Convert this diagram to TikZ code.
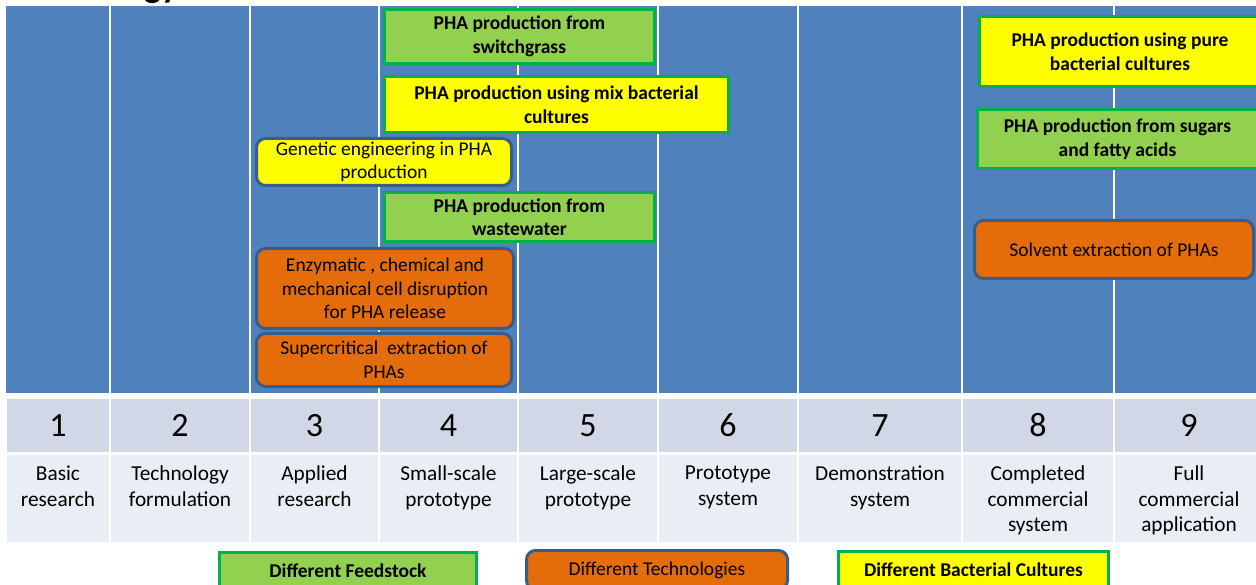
\documentclass[tikz,border=0pt]{standalone}
\usepackage{fontspec}
\setmainfont{Carlito}
\definecolor{tblue}{RGB}{79,129,189}
\definecolor{hdr}{RGB}{208,216,232}
\definecolor{lbl}{RGB}{233,237,244}
\definecolor{fgreen}{RGB}{146,208,80}
\definecolor{bgreen}{RGB}{0,176,80}
\definecolor{fyellow}{RGB}{255,255,0}
\definecolor{forange}{RGB}{228,108,10}
\definecolor{bslate}{RGB}{56,93,138}
\tikzset{
  box/.style={draw, line width=3pt, inner sep=0pt, align=center,
    font=\fontsize{19.5}{23.5}\selectfont},
  feed/.style={box, fill=fgreen, draw=bgreen,
    font=\bfseries\fontsize{19.5}{23.5}\selectfont},
  culture/.style={feed, fill=fyellow},
  tech/.style={box, fill=forange, draw=bslate, rounded corners=9pt},
  techyellow/.style={tech, fill=fyellow},
  numtext/.style={inner sep=0pt, font=\fontsize{34}{40}\selectfont},
  lbltext/.style={inner sep=0pt, align=center, anchor=north,
    font=\fontsize{21.3}{25.5}\selectfont},
}
\begin{document}
\begin{tikzpicture}[x=1pt,y=-1pt]
\useasboundingbox (0,0) rectangle (1256,585);
\clip (0,0) rectangle (1256,585);

% heading, mostly above the page edge
\node[anchor=base west, inner sep=0pt,
  font=\bfseries\fontsize{36}{40}\selectfont] (title) at (144,-2) {gy};

% level bands
\fill[tblue] (6,6) rectangle (1264,393);
\foreach \x in {110,250,379,518,658,798,962,1114}
  \draw[white, line width=2pt] (\x,6) -- (\x,393);

% number and description rows
\foreach \a/\b/\t [count=\i] in {
  6/110/{Basic\\research},
  110/250/{Technology\\formulation},
  250/379/{Applied\\research},
  379/518/{Small-scale\\prototype},
  518/658/{Large-scale\\prototype},
  658/798/{Prototype\\system},
  798/962/{Demonstration\\system},
  962/1114/{Completed\\commercial\\system},
  1114/1264/{Full\\commercial\\application}}{
  \fill[hdr] (\a+1,399) rectangle (\b-1,452);
  \fill[lbl] (\a+1,455) rectangle (\b-1,542);
  \node[numtext] (n\i) at ({(\a+\b)/2},425.5) {\i};
  \node[lbltext] (l\i) at ({(\a+\b)/2},466) {\t};
}

% feedstock, cultures and technologies
\node[feed, minimum width=270pt, minimum height=54pt] (switchgrass) at (519.5,36.5)
  {PHA production from\\switchgrass};
\node[culture, minimum width=344pt, minimum height=56pt] (mixcult) at (556.5,104.5)
  {PHA production using mix bacterial\\cultures};
\node[techyellow, minimum width=255pt, minimum height=47pt] (genetic) at (384,162)
  {Genetic engineering in PHA\\production};
\node[feed, minimum width=270pt, minimum height=49pt] (wastewater) at (519.5,217)
  {PHA production from\\wastewater};
\node[tech, minimum width=257pt, minimum height=80pt] (disruption) at (385,288.5)
  {Enzymatic , chemical and\\mechanical cell disruption\\for PHA release};
\node[tech, minimum width=255pt, minimum height=53pt] (supercrit) at (384,360)
  {Supercritical\ \ extraction of\\PHAs};
\node[culture, minimum width=281pt, minimum height=70pt] (purecult) at (1120,51.5)
  {PHA production using pure\\bacterial cultures};
\node[feed, minimum width=280pt, minimum height=59pt] (sugars) at (1117.5,139)
  {PHA production from sugars\\and fatty acids};
\node[tech, minimum width=279pt, minimum height=58pt] (solvent) at (1114,249.5)
  {Solvent extraction of PHAs};

% key
\node[feed, minimum width=257pt, minimum height=37pt] (keyfeed) at (348,571)
  {Different Feedstock};
\node[tech, minimum width=261pt, minimum height=39pt] (keytech) at (657,570)
  {Different Technologies};
\node[culture, minimum width=270pt, minimum height=37pt] (keycult) at (973.5,570)
  {Different Bacterial Cultures};
\end{tikzpicture}
\end{document}
